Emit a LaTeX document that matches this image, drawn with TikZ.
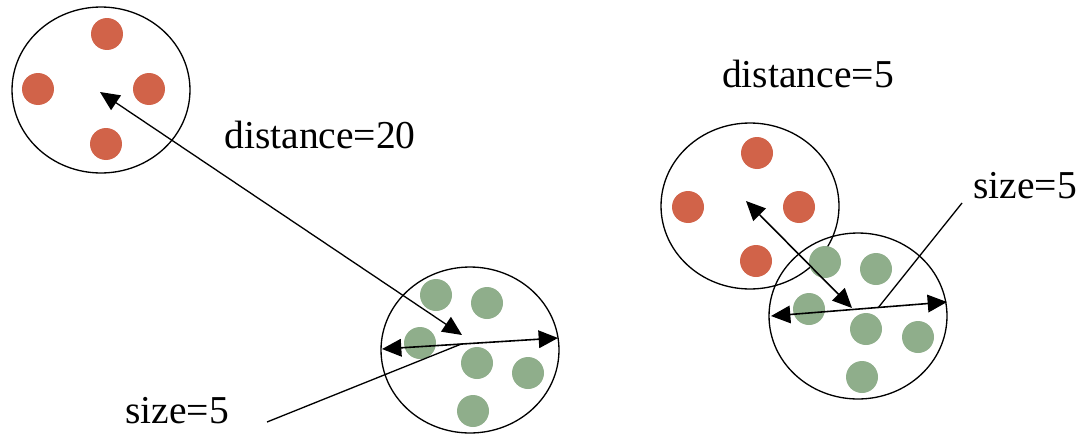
\documentclass[tikz,border=0pt]{standalone}
\usepackage{fontspec}
\setmainfont{Liberation Serif}
\usetikzlibrary{arrows.meta,shapes.geometric}

\definecolor{dotred}{RGB}{209,99,73}
\definecolor{dotgreen}{RGB}{143,174,139}

\begin{document}
\begin{tikzpicture}[x=0.02cm,y=-0.02cm,line width=0.75pt,
        >={Triangle[length=11pt,width=10pt]},
        group/.style={draw,ellipse,minimum width=3.56cm,minimum height=3.32cm},
        red dot/.style={circle,fill=dotred,minimum size=0.64cm,inner sep=0pt},
        green dot/.style={circle,fill=dotgreen,minimum size=0.64cm,inner sep=0pt},
        lbl/.style={anchor=base,font=\fontsize{22.5}{27}\selectfont}]

  \useasboundingbox (0,0) rectangle (1084,433);

  % far apart: the two clusters
  \node[group] (far1) at (101,90) {};
  \node[group] (far2) at (470,350) {};

  \node[red dot] (r11) at (107,34) {};
  \node[red dot] (r12) at (38,89) {};
  \node[red dot] (r13) at (149,89) {};
  \node[red dot] (r14) at (106,144) {};

  \node[green dot] (g11) at (436,295) {};
  \node[green dot] (g12) at (487,303) {};
  \node[green dot] (g13) at (420,343) {};
  \node[green dot] (g14) at (477,363) {};
  \node[green dot] (g15) at (528,373) {};
  \node[green dot] (g16) at (473,411) {};

  % close together: overlapping clusters
  \node[group] (near1) at (750,206) {};
  \node[group] (near2) at (858,316) {};

  \node[red dot] (r21) at (757,153) {};
  \node[red dot] (r22) at (688,207) {};
  \node[red dot] (r23) at (799,207) {};
  \node[red dot] (r24) at (756,261) {};

  \node[green dot] (g21) at (825,262) {};
  \node[green dot] (g22) at (876,269) {};
  \node[green dot] (g23) at (809,309) {};
  \node[green dot] (g24) at (866,329) {};
  \node[green dot] (g25) at (918,337) {};
  \node[green dot] (g26) at (862,377) {};

  % centres and diameters
  \coordinate (c11) at (100,92);
  \coordinate (c12) at (462,335);
  \coordinate (d1w) at (382,349);
  \coordinate (d1e) at (558,338);
  \coordinate (c21) at (746,201);
  \coordinate (c22) at (852,308);
  \coordinate (d2w) at (771,316);
  \coordinate (d2e) at (947,302);

  \draw[<->] (c11) -- (c12);
  \draw[<->,line width=0.9pt] (d1w) -- (d1e) coordinate[pos=0.45] (m1);
  \draw[<->,line width=0.9pt] (c21) -- (c22);
  \draw[<->,line width=0.9pt] (d2w) -- (d2e) coordinate[pos=0.61] (m2);

  % labels
  \node[lbl] (dist20) at (320,148) {distance=20};
  \node[lbl] (size1) at (177,423) {size=5};
  \node[lbl] (dist5) at (808,87) {distance=5};
  \node[lbl] (size2) at (1025,198) {size=5};

  \coordinate (p1) at (267,422);
  \coordinate (p2) at (962,203);
  \draw (m1) -- (p1);
  \draw (m2) -- (p2);

\end{tikzpicture}
\end{document}
